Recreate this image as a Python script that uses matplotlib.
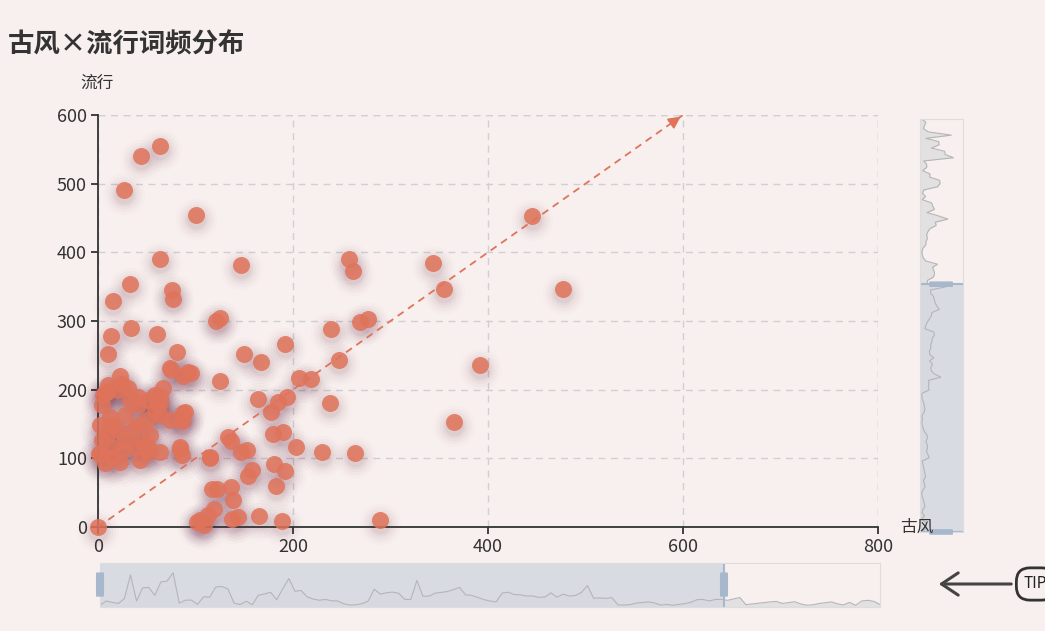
import numpy as np
import matplotlib
matplotlib.use("Agg")
import matplotlib.pyplot as plt
import matplotlib.transforms as mtransforms
from matplotlib.patches import FancyBboxPatch, FancyArrowPatch

plt.rcParams['font.family'] = ['Noto Sans CJK SC', 'DejaVu Sans']

# word frequency: 古风 (x) vs 流行 (y)
gufeng = [0, 64, 44, 27, 100, 445, 64, 257, 262, 147, 344, 355, 477,
          33, 76, 77, 15, 125, 121, 269, 277, 239, 34, 13, 60, 10, 150, 167, 192, 81, 247, 392,
          206, 218, 125, 92, 75, 87, 67, 64, 23, 5, 9, 25, 62, 238, 164, 185, 194, 177, 89, 86, 365,
          133, 136, 179, 190, 203, 230, 264, 153, 147, 115, 84, 64, 51,
          180, 192, 158, 154, 136, 138, 117, 122, 183, 119, 165, 137, 144, 189, 289, 105, 109, 102, 113,
          7, 4, 12, 33, 41, 50, 36, 4, 14, 2, 14, 26, 46, 84, 86, 64, 87, 86, 74, 95, 115,
          10, 21, 31, 41, 51, 58, 28, 41, 53, 21, 2, 9, 28, 38, 51, 23, 7, 43, 1, 64, 74, 58, 14]
liuxing = [0, 555, 540, 491, 454, 453, 390, 390, 373, 381, 384, 347, 346,
           354, 345, 332, 329, 304, 300, 299, 303, 288, 290, 278, 281, 252, 252, 240, 266, 255, 243, 236,
           217, 215, 213, 226, 229, 220, 202, 189, 220, 192, 196, 208, 179, 180, 186, 182, 189, 167, 167, 154, 153,
           131, 125, 135, 138, 116, 109, 108, 112, 109, 100, 113, 109, 116,
           92, 82, 83, 74, 58, 39, 55, 55, 60, 26, 16, 12, 15, 9, 10, 10, 3, 7, 17,
           195, 178, 160, 185, 189, 156, 141, 127, 117, 108, 100, 112, 122, 117, 105, 181, 166, 156, 232, 224, 102,
           207, 200, 202, 178, 185, 170, 163, 149, 134, 141, 149, 134, 127, 116, 109, 95, 93, 98, 106, 163, 156, 192, 149]

x_ticks = [0, 200, 400, 600, 800]
y_ticks = [0, 100, 200, 300, 400, 500, 600]

bg = '#f8f0ee'
dot = '#e0735a'
ink = '#333333'

fig = plt.figure(figsize=(10.45, 6.31), dpi=100, facecolor=bg)
ax = fig.add_axes([98 / 1045, 1 - 527 / 631, 780 / 1045, 412 / 631], facecolor=bg)

# blurred purple shadow under the dots, shifted down a little
shift = mtransforms.offset_copy(ax.transData, fig=fig, x=0, y=-4, units='dots')
for s, a in [(900, 0.015), (650, 0.022), (450, 0.03), (300, 0.04), (200, 0.05)]:
    ax.scatter(gufeng, liuxing, s=s, color='#641a3a', alpha=a, lw=0,
               zorder=2, transform=shift, clip_on=False)
# reference line with arrow
ax.plot([0, 600], [0, 600], ls=(0, (4, 3)), color=dot, lw=1.3, zorder=3)
ax.annotate('', xy=(600, 600), xytext=(590, 590),
            arrowprops=dict(arrowstyle='-|>', color=dot, lw=1.3, mutation_scale=18),
            annotation_clip=False, zorder=3)
ax.scatter(gufeng, liuxing, s=150, color=dot, alpha=0.85, lw=0, zorder=4, clip_on=False)

ax.set_xlim(0, 800)
ax.set_ylim(0, 600)
ax.set_xticks(x_ticks)
ax.set_yticks(y_ticks)
ax.grid(True, ls=(0, (5, 4)), color='#cfcfd4', lw=1)
ax.set_axisbelow(True)
for sp in ['top', 'right']:
    ax.spines[sp].set_visible(False)
for sp in ['left', 'bottom']:
    ax.spines[sp].set_color(ink)
    ax.spines[sp].set_linewidth(1.3)
ax.tick_params(colors=ink, labelsize=13, length=5, width=1.3, pad=3)
ax.axvline(800, ls=(0, (5, 4)), color='#cfcfd4', lw=1, zorder=0)
ax.axhline(600, ls=(0, (5, 4)), color='#cfcfd4', lw=1, zorder=0)

fig.text(8 / 1045, 1 - 45 / 631, '古风×流行词频分布', fontsize=19, fontweight='bold',
         color=ink, va='center')
fig.text(80 / 1045, 1 - 83 / 631, '流行', fontsize=12, color=ink, va='center')
fig.text(900 / 1045, 1 - 527 / 631, '古风', fontsize=12, color=ink, va='center')

# data zoom sliders
sel_fill = '#d4d8e1'
handle = '#a7b7cc'
shadow_line = '#b5b5b8'

# bottom slider (x axis)
bx = fig.add_axes([100 / 1045, 1 - 607 / 631, 780 / 1045, 44 / 631], facecolor='none')
n = len(gufeng)
idx = np.arange(n)
bx.set_xlim(0, n - 1)
bx.set_ylim(-max(gufeng) * 0.05, max(gufeng) * 1.3)
bx.fill_between(idx, gufeng, -max(gufeng), color='#e2e0e0', lw=0)
bx.plot(idx, gufeng, color=shadow_line, lw=0.8)
sel = (n - 1) * 0.8
bx.axvspan(0, sel, color=sel_fill, alpha=0.85, lw=0)
bx.axvline(0, color=handle, lw=1.5)
bx.axvline(sel, color=handle, lw=1.5)
tb = mtransforms.blended_transform_factory(bx.transData, bx.transAxes)
for xx in [0, sel]:
    bx.add_patch(FancyBboxPatch((xx - 0.5, 0.3), 1.0, 0.42, boxstyle='round,pad=0.05',
                                color=handle, transform=tb, clip_on=False, zorder=5))
bx.set_xticks([])
bx.set_yticks([])
for sp in bx.spines.values():
    sp.set_color('#dddddd')

# right slider (y axis)
rx = fig.add_axes([920 / 1045, 1 - 532 / 631, 43 / 1045, 413 / 631], facecolor='none')
shadow_r = gufeng[::-1]
m = len(shadow_r)
jdx = np.arange(m)
rx.set_ylim(0, m - 1)
rx.set_xlim(-max(shadow_r) * 0.05, max(shadow_r) * 1.3)
rx.fill_betweenx(jdx, shadow_r, -max(shadow_r), color='#e2e0e0', lw=0)
rx.plot(shadow_r, jdx, color=shadow_line, lw=0.8)
sel_r = (m - 1) * 0.6
rx.axhspan(0, sel_r, color=sel_fill, alpha=0.85, lw=0)
rx.axhline(0, color=handle, lw=1.5)
rx.axhline(sel_r, color=handle, lw=1.5)
tr = mtransforms.blended_transform_factory(rx.transAxes, rx.transData)
for yy in [0, sel_r]:
    rx.add_patch(FancyBboxPatch((0.28, yy - 0.6), 0.42, 1.2, boxstyle='round,pad=0.05',
                                color=handle, transform=tr, clip_on=False, zorder=5))
rx.set_xticks([])
rx.set_yticks([])
for sp in rx.spines.values():
    sp.set_color('#dddddd')

# tip badge at the bottom right
fig.add_artist(FancyArrowPatch((1014 / 1045, 1 - 584 / 631), (936 / 1045, 1 - 584 / 631),
                               transform=fig.transFigure, arrowstyle='->,head_length=6,head_width=4',
                               color='#444444', lw=2.2, mutation_scale=2))
fig.text(1024 / 1045, 1 - 584 / 631, 'TIP', fontsize=11, color='#222222', va='center',
         ha='left', bbox=dict(boxstyle='round,pad=0.5,rounding_size=0.9', fc=bg,
                              ec='#333333', lw=2))

fig.savefig('out.png', dpi=100, facecolor=bg)
